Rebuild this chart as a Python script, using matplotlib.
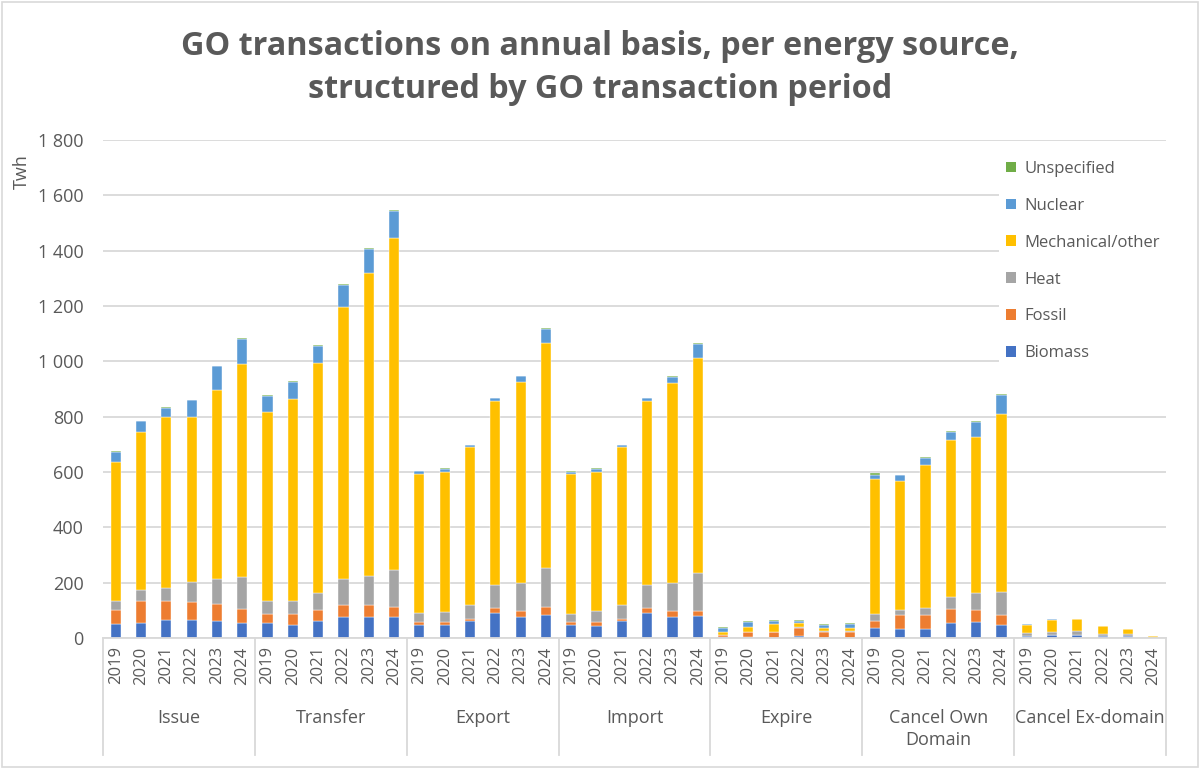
import matplotlib
matplotlib.use("Agg")
import matplotlib.pyplot as plt
import numpy as np
from matplotlib.patches import Patch, Rectangle
from matplotlib.ticker import FuncFormatter

plt.rcParams["font.family"] = ["Open Sans", "DejaVu Sans"]

TEXT = "#595959"
GRID = "#D9D9D9"

groups = ["Issue", "Transfer", "Export", "Import", "Expire",
          "Cancel Own\nDomain", "Cancel Ex-domain"]
years = ["2019", "2020", "2021", "2022", "2023", "2024"]
sources = ["Biomass", "Fossil", "Heat", "Mechanical/other", "Nuclear", "Unspecified"]
colors = ["#4472C4", "#ED7D31", "#A5A5A5", "#FFC000", "#5B9BD5", "#70AD47"]

# TWh per group, years 2019..2024 within each group
biomass = [52, 54, 64, 64, 60, 54,
           54, 46, 60, 75, 76, 76,
           47, 47, 60, 90, 75, 82,
           47, 45, 60, 90, 75, 78,
           2, 4, 1, 8, 1, 1,
           36, 33, 33, 53, 57, 48,
           7, 11, 11, 7, 7, 0]
fossil = [50, 81, 69, 65, 64, 51,
          33, 41, 42, 45, 42, 36,
          12, 12, 10, 17, 24, 30,
          11, 14, 10, 17, 24, 21,
          8, 18, 19, 27, 22, 19,
          27, 49, 50, 51, 45, 35,
          1, 1, 1, 1, 0, 0]
heat = [33, 40, 48, 75, 89, 114,
        46, 48, 59, 92, 105, 135,
        31, 36, 48, 85, 101, 141,
        30, 39, 48, 85, 101, 137,
        2, 1, 2, 5, 4, 5,
        25, 20, 25, 45, 61, 82,
        10, 10, 12, 5, 6, 1]
mechanical = [500, 570, 618, 595, 683, 770,
              683, 729, 833, 986, 1096, 1198,
              503, 506, 571, 666, 724, 812,
              504, 502, 571, 666, 722, 777,
              10, 16, 27, 14, 8, 12,
              488, 464, 519, 568, 565, 643,
              30, 42, 45, 29, 20, 5]
nuclear = [37, 38, 34, 60, 86, 92,
           57, 61, 60, 79, 88, 100,
           9, 10, 7, 8, 22, 53,
           9, 11, 7, 8, 21, 51,
           14, 19, 14, 9, 12, 15,
           14, 22, 25, 26, 54, 72,
           2, 3, 1, 2, 1, 0]
unspecified = [3, 3, 2, 2, 2, 2,
               4, 4, 4, 4, 4, 3,
               3, 5, 3, 3, 2, 2,
               3, 5, 3, 3, 3, 2,
               3, 2, 2, 2, 2, 2,
               6, 2, 2, 4, 2, 3,
               0, 0, 0, 0, 0, 0]

series = [biomass, fossil, heat, mechanical, nuclear, unspecified]

W, H = 1200, 769
fig = plt.figure(figsize=(W / 100, H / 100), dpi=100)
fig.patches.append(Rectangle((2 / W, 2 / H), 1 - 4 / W, 1 - 4 / H, transform=fig.transFigure,
                             fill=False, edgecolor=GRID, lw=1.2))

ax = fig.add_axes([103 / W, 1 - 638 / H, (1166 - 103) / W, (638 - 140) / H])
x = np.arange(len(biomass))
bottom = np.zeros(len(x))
for vals, col, name in zip(series, colors, sources):
    ax.bar(x, vals, 0.4, bottom=bottom, color=col, label=name, edgecolor="white", linewidth=0.3)
    bottom += np.array(vals)

ax.set_xlim(-0.5, len(x) - 0.5)
ax.set_ylim(0, 1800)
ax.set_yticks(np.arange(0, 1801, 200))
ax.yaxis.set_major_formatter(FuncFormatter(lambda v, p: f"{int(v):,}".replace(",", " ")))
ax.yaxis.grid(True, color=GRID, lw=1.3)
ax.set_axisbelow(True)
for s in ["top", "right", "left"]:
    ax.spines[s].set_visible(False)
ax.spines["bottom"].set_color(GRID)
ax.spines["bottom"].set_linewidth(1.3)

ax.set_xticks(x)
ax.set_xticklabels(years * len(groups), rotation=90, fontsize=12, color=TEXT)
ax.tick_params(axis="x", length=0, pad=6)
ax.tick_params(axis="y", length=0, pad=14, labelsize=13, labelcolor=TEXT)

trans = ax.get_xaxis_transform()
sep_depth = (755 - 638) / (638 - 140)
for b in np.arange(-0.5, len(x), len(years)):
    ax.plot([b, b], [0, -sep_depth], transform=trans, clip_on=False, color=GRID, lw=1.3)
for i, g in enumerate(groups):
    ax.text(i * len(years) + 2.5, -(709 - 638) / (638 - 140), g, transform=trans,
            ha="center", va="top", fontsize=13, color=TEXT, linespacing=1.3)

fig.text(22 / W, 1 - 172 / H, "Twh", rotation=90, ha="center", va="center",
         fontsize=13, color=TEXT)

fig.text(0.5, 1 - 68 / H,
         "GO transactions on annual basis, per energy source,\nstructured by GO transaction period",
         ha="center", va="center", fontsize=23.3, fontweight="bold", color=TEXT, linespacing=1.42)

handles = [Patch(facecolor=c, label=n) for c, n in zip(colors, sources)][::-1]
leg = ax.legend(handles=handles, loc="upper left", bbox_to_anchor=(991 / W, 1 - 146 / H),
                bbox_transform=fig.transFigure, frameon=True, fontsize=12,
                handlelength=0.6, handleheight=0.6, handletextpad=0.5,
                labelspacing=1.25, borderpad=0.4, labelcolor=TEXT)
leg.get_frame().set_facecolor("white")
leg.get_frame().set_edgecolor("none")
leg.get_frame().set_alpha(1)

fig.savefig("out.png", dpi=100)
